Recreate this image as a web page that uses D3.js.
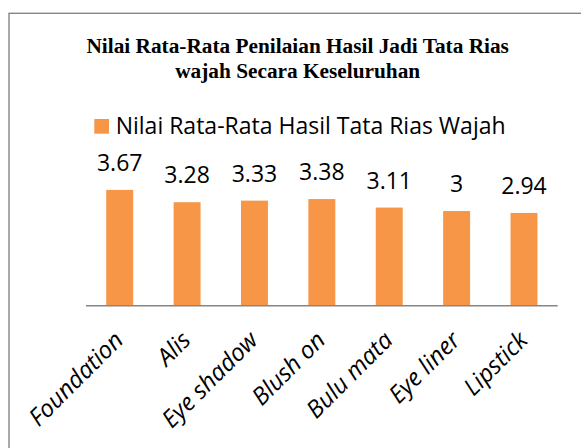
<!DOCTYPE html>
<html>
<head>
<meta charset="utf-8">
<script src="https://cdn.jsdelivr.net/npm/d3@7"></script>
<style>
  html, body { margin: 0; padding: 0; background: #fff; }
  svg { display: block; }
</style>
</head>
<body>
<div id="chart"></div>
<script>
const categories = ["Foundation", "Alis", "Eye shadow", "Blush on", "Bulu mata", "Eye liner", "Lipstick"];
const values = [3.67, 3.28, 3.33, 3.38, 3.11, 3, 2.94];
const valueLabels = ["3.67", "3.28", "3.33", "3.38", "3.11", "3", "2.94"];
const seriesName = "Nilai Rata-Rata Hasil Tata Rias Wajah";
const titleLines = ["Nilai Rata-Rata Penilaian Hasil Jadi Tata Rias", "wajah Secara Keseluruhan"];
const yDomain = [0, 4];

const W = 581, H = 448;
const svg = d3.select("#chart").append("svg").attr("width", W).attr("height", H);

// chart frame
svg.append("rect")
  .attr("x", 9).attr("y", 13.3)
  .attr("width", 578).attr("height", 460)
  .attr("fill", "#fff").attr("stroke", "#868686").attr("stroke-width", 1.4);

// title
const title = svg.append("text")
  .attr("text-anchor", "middle")
  .attr("font-family", "'Liberation Serif', 'Times New Roman', serif")
  .attr("font-weight", "bold")
  .attr("font-size", 21.3)
  .attr("fill", "#000");
titleLines.forEach((t, i) => {
  title.append("tspan").attr("x", 297.7).attr("y", 53.3 + i * 24.4).text(t);
});

// legend
const color = "#F79646";
svg.append("rect").attr("x", 94.3).attr("y", 119).attr("width", 14.7).attr("height", 14.7).attr("fill", color);
svg.append("text")
  .attr("x", 115.7).attr("y", 133.7)
  .attr("font-family", "'Open Sans', sans-serif")
  .attr("font-size", 23)
  .attr("fill", "#000")
  .text(seriesName);

// scales
const x = d3.scaleBand().domain(categories).range([86, 557.7]).paddingInner(0.6).paddingOuter(0.3);
const y = d3.scaleLinear().domain(yDomain).range([305.7, 305.7 - 4 * 31.55]);

// bars
svg.append("g").selectAll("rect").data(values).join("rect")
  .attr("x", (d, i) => x(categories[i]))
  .attr("y", d => y(d))
  .attr("width", x.bandwidth())
  .attr("height", d => y(0) - y(d))
  .attr("fill", color);

// data labels
svg.append("g").selectAll("text").data(values).join("text")
  .attr("x", (d, i) => x(categories[i]) + x.bandwidth() / 2)
  .attr("y", d => y(d) - 19)
  .attr("text-anchor", "middle")
  .attr("font-family", "'Open Sans', sans-serif")
  .attr("font-size", 23)
  .attr("fill", "#000")
  .text((d, i) => valueLabels[i]);

// x axis
const xAxis = d3.axisBottom(x).tickSize(0).tickPadding(0);
const gx = svg.append("g").attr("transform", `translate(0,${y(0)})`).call(xAxis);
gx.select(".domain").attr("stroke", "#868686").attr("stroke-width", 1.5).attr("d", `M86,0H557.7`);
gx.selectAll(".tick text")
  .attr("font-family", "'Open Sans', sans-serif")
  .attr("font-style", "italic")
  .attr("font-size", 24)
  .attr("fill", "#000")
  .attr("text-anchor", "end")
  .attr("dy", 0)
  .attr("y", 0)
  .attr("transform", "translate(5,36) rotate(-45)");
</script>
</body>
</html>
